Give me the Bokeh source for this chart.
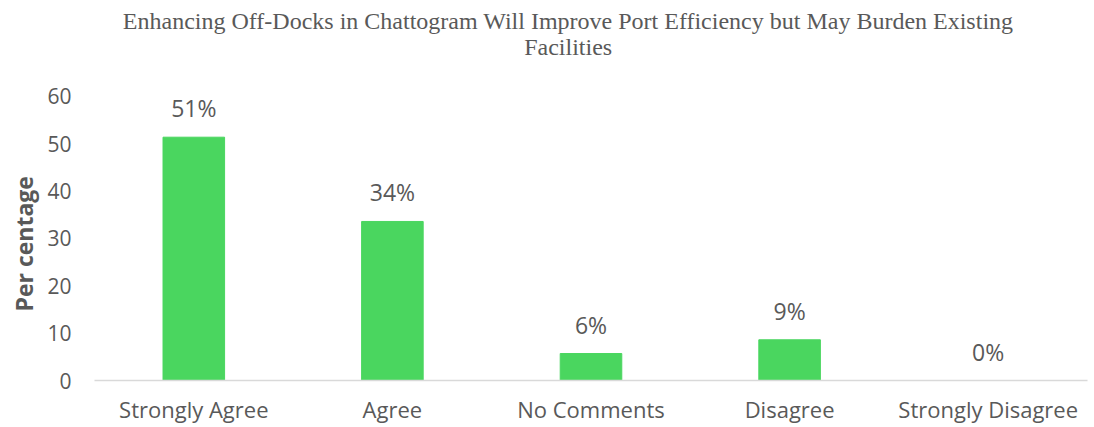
from bokeh.plotting import figure
from bokeh.models import ColumnDataSource, Range1d, FactorRange, Label, Title
from bokeh.core.properties import value
from bokeh.embed import file_html
from bokeh.resources import INLINE

categories = ["Strongly Agree", "Agree", "No Comments", "Disagree", "Strongly Disagree"]
percentages = [51.4, 33.6, 5.7, 8.6, 0.0]
labels = ["51%", "34%", "6%", "9%", "0%"]
y_ticks = [0, 10, 20, 30, 40, 50, 60]
title_lines = ["Enhancing Off-Docks in Chattogram Will Improve Port Efficiency but May Burden Existing",
               "Facilities"]
y_title = "Per centage"

GREY = "#595959"
FONT = "Open Sans"

src = ColumnDataSource(dict(cat=categories, val=percentages, lab=labels))

# frame spans the full height above the axis so the title can sit inside it
p = figure(width=1094, height=427, x_range=FactorRange(*categories, range_padding=0),
           y_range=Range1d(0, 80.28), output_backend="svg", toolbar_location=None,
           min_border_left=91, min_border_right=7, min_border_top=0, min_border_bottom=47)

p.outline_line_color = None
p.xgrid.grid_line_color = None
p.ygrid.grid_line_color = None

for txt, yy in zip(title_lines, [76.0, 70.5]):
    p.add_layout(Label(x=2.385, y=yy, text=txt, text_align="center", text_baseline="middle",
                       text_font="Liberation Serif", text_font_size="24px", text_color=GREY))

p.add_layout(Title(text=y_title, align="left", offset=69, text_font=FONT,
                   text_font_size="23px", text_font_style="bold", text_color=GREY), "left")

p.vbar(x="cat", top="val", width=0.31, source=src, color="#4ad65f")
p.text(x="cat", y="val", text="lab", source=src, text_align="center", text_baseline="middle",
       y_offset=-29, text_font=value(FONT), text_font_size="23px", text_color=GREY)

p.yaxis.ticker = y_ticks
p.yaxis.axis_line_color = None
p.yaxis.major_tick_line_color = None
p.yaxis.minor_tick_line_color = None
p.yaxis.major_tick_in = 0
p.yaxis.major_tick_out = 0
p.yaxis.minor_tick_in = 0
p.yaxis.minor_tick_out = 0
p.yaxis.major_label_text_font = FONT
p.yaxis.major_label_text_font_size = "21px"
p.yaxis.major_label_text_color = GREY
p.yaxis.major_label_standoff = 23

p.xaxis.axis_line_color = "#d9d9d9"
p.xaxis.axis_line_width = 1.5
p.xaxis.major_tick_line_color = None
p.xaxis.minor_tick_line_color = None
p.xaxis.major_tick_in = 0
p.xaxis.major_tick_out = 0
p.xaxis.major_label_text_font = FONT
p.xaxis.major_label_text_font_size = "22px"
p.xaxis.major_label_text_color = GREY
p.xaxis.major_label_standoff = 13

open("out.html", "w").write(file_html(p, INLINE))
